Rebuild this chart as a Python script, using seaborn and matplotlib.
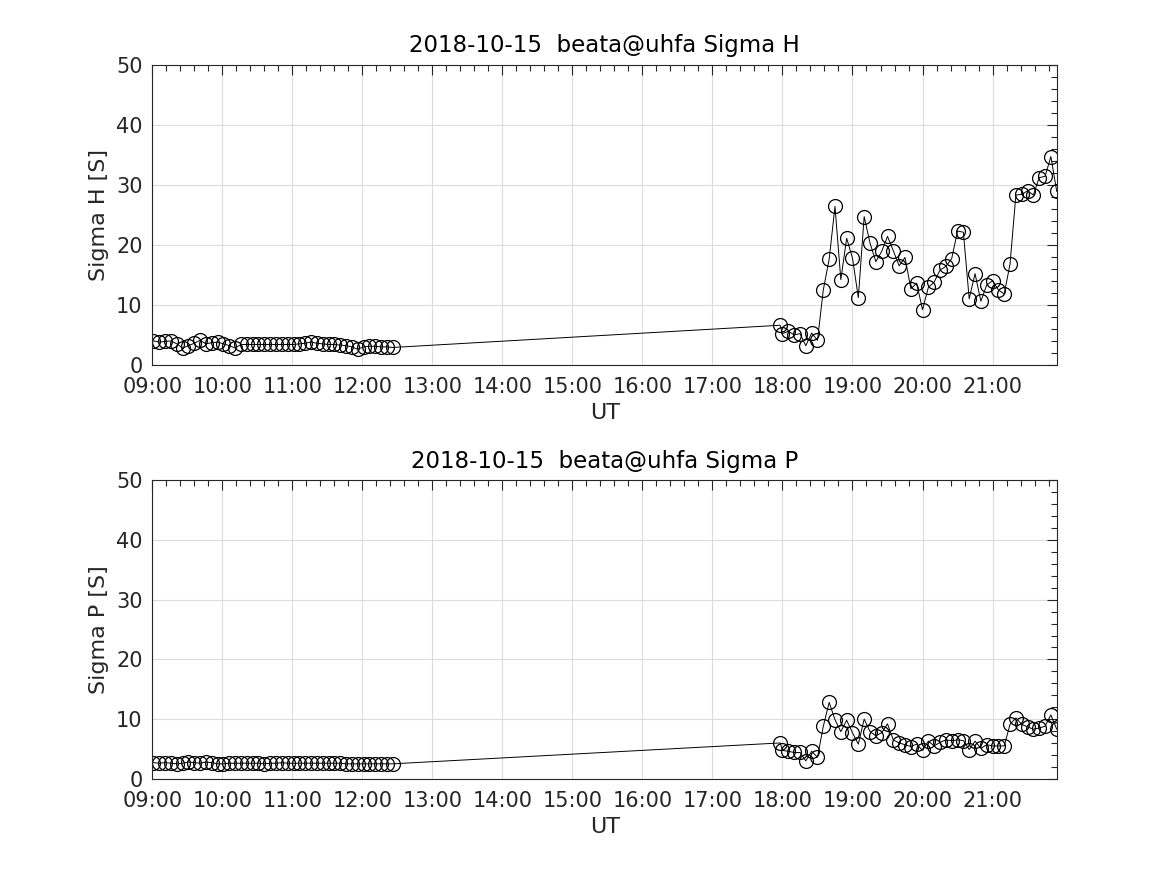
import numpy as np
import pandas as pd
import matplotlib
matplotlib.use("Agg")
import matplotlib.pyplot as plt
import matplotlib.dates as mdates
from matplotlib.ticker import MultipleLocator
import seaborn as sns

date = "2018-10-15"
title_h = "2018-10-15  beata@uhfa Sigma H"
title_p = "2018-10-15  beata@uhfa Sigma P"
ylabel_h = "Sigma H [S]"
ylabel_p = "Sigma P [S]"
xlabel = "UT"

# segment 1: 09:01 .. 12:26 every 5 min
seg1_start = "09:01"
seg1_n = 42
# segment 2: 17:58 then 18:00 .. 21:55 every 5 min
seg2_first = "17:58"
seg2_start = "18:00"
seg2_n = 48

sigma_h_1 = [4.0, 3.8, 3.9, 4.0, 3.5, 2.8, 3.2, 3.6, 4.1, 3.5, 3.7, 3.8, 3.5, 3.2, 2.8,
             3.4, 3.4, 3.4, 3.4, 3.4, 3.4, 3.4, 3.4, 3.4, 3.4, 3.5, 3.6, 3.8, 3.6, 3.5,
             3.4, 3.4, 3.3, 3.2, 3.0, 2.6, 3.0, 3.1, 3.1, 3.0, 3.0, 2.9]
sigma_h_2 = [6.6, 5.2, 5.6, 5.0, 5.2, 3.2, 5.3, 4.1, 12.5, 17.6, 26.4, 14.2, 21.1, 17.8,
             11.2, 24.7, 20.3, 17.2, 18.9, 21.4, 19.0, 16.5, 17.9, 12.7, 13.6, 9.2, 12.9,
             13.8, 15.8, 16.4, 17.7, 22.3, 22.1, 11.0, 15.2, 10.6, 13.3, 14.0, 12.5, 11.8,
             16.8, 28.3, 28.4, 29.0, 28.3, 31.2, 31.4, 34.7, 28.9]

sigma_p_1 = [2.7, 2.6, 2.7, 2.6, 2.5, 2.6, 2.8, 2.7, 2.6, 2.8, 2.7, 2.5, 2.5, 2.6, 2.6,
             2.6, 2.6, 2.6, 2.6, 2.5, 2.6, 2.6, 2.7, 2.6, 2.6, 2.6, 2.6, 2.6, 2.6, 2.6,
             2.6, 2.6, 2.6, 2.5, 2.5, 2.5, 2.5, 2.5, 2.5, 2.5, 2.5, 2.5]
sigma_p_2 = [6.0, 4.75, 4.6, 4.4, 4.4, 3.0, 4.6, 3.6, 8.8, 12.8, 9.9, 7.9, 9.8, 7.7, 5.8,
             10.0, 7.9, 7.2, 7.7, 9.2, 6.5, 6.0, 5.7, 5.4, 5.8, 4.75, 6.3, 5.5, 6.1, 6.5,
             6.4, 6.5, 6.4, 4.9, 6.3, 5.1, 5.7, 5.5, 5.5, 5.5, 9.1, 10.2, 9.1, 8.7, 8.3,
             8.5, 8.8, 10.7, 8.3]

t1 = pd.date_range(f"{date} {seg1_start}", periods=seg1_n, freq="5min")
t2 = pd.DatetimeIndex([pd.Timestamp(f"{date} {seg2_first}")]).append(
    pd.date_range(f"{date} {seg2_start}", periods=seg2_n, freq="5min"))
times = t1.append(t2)

df = pd.DataFrame({"UT": times,
                   "H": sigma_h_1 + sigma_h_2,
                   "P": sigma_p_1 + sigma_p_2})

sns.set_style("white")
plt.rcParams["font.family"] = ["DejaVu Sans"]

fig = plt.figure(figsize=(11.67, 8.75), dpi=100)
ax1 = fig.add_axes([0.1305, 0.583, 0.7755, 0.343])
ax2 = fig.add_axes([0.1305, 0.110, 0.7755, 0.341])

dark = "#262626"
xmin = pd.Timestamp(f"{date} 09:00")
xmax = pd.Timestamp(f"{date} 21:55:30")

for ax, col, ttl, yl in [(ax1, "H", title_h, ylabel_h), (ax2, "P", title_p, ylabel_p)]:
    sns.lineplot(data=df, x="UT", y=col, ax=ax, color="black", linewidth=0.7,
                 marker="o", markersize=10, markerfacecolor="none",
                 markeredgecolor="black", markeredgewidth=0.9)
    ax.set_xlim(xmin, xmax)
    ax.set_ylim(0, 50)
    ax.yaxis.set_major_locator(MultipleLocator(10))
    ax.yaxis.set_minor_locator(MultipleLocator(2))
    ax.xaxis.set_major_locator(mdates.HourLocator())
    ax.xaxis.set_minor_locator(mdates.MinuteLocator(byminute=[0, 12, 24, 36, 48]))
    ax.xaxis.set_major_formatter(mdates.DateFormatter("%H:%M"))
    ax.grid(True, which="major", color="#dcdcdc", linewidth=0.8)
    ax.set_axisbelow(True)
    ax.tick_params(which="both", direction="in", top=True, right=True,
                   color=dark, labelcolor=dark, labelsize=15)
    ax.tick_params(axis="x", which="major", pad=9)
    ax.tick_params(axis="y", which="major", pad=7)
    ax.tick_params(which="major", length=7, width=0.8)
    ax.tick_params(which="minor", length=4, width=0.8)
    for s in ax.spines.values():
        s.set_color(dark)
        s.set_linewidth(0.8)
        s.set_visible(True)
    ax.set_title(ttl, fontsize=16.5, color="black", pad=9)
    ax.set_ylabel(yl, fontsize=16, color=dark, labelpad=5)
    ax.set_xlabel(xlabel, fontsize=16, color=dark, labelpad=4)

fig.savefig("out.png", dpi=100)
